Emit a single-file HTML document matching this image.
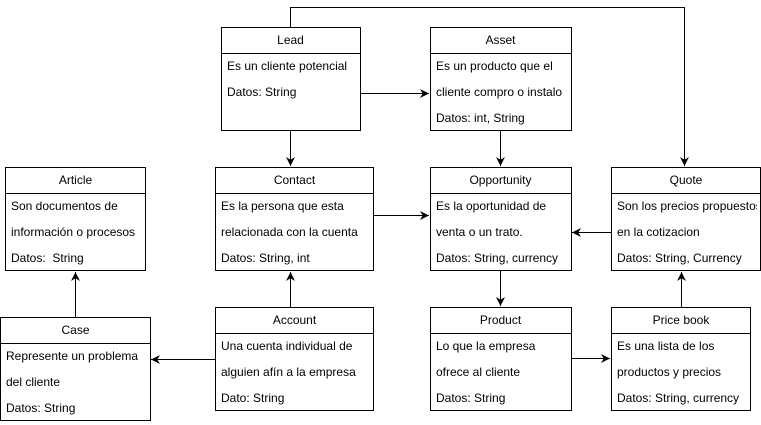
<!DOCTYPE html>
<html><head><meta charset="utf-8"><style>
html,body{margin:0;padding:0;background:#fff}
svg{display:block}
text{font-family:"Liberation Sans",Arial,sans-serif;font-size:12px;fill:#000}
</style></head><body>
<svg width="761" height="425" viewBox="0 0 761 425" xmlns="http://www.w3.org/2000/svg">
<defs>
<marker id="a" viewBox="0 0 10 10" refX="10" refY="5" markerWidth="9" markerHeight="9" markerUnits="userSpaceOnUse" orient="auto">
<path d="M0,0 L10,5 L0,10 L3,5 z" fill="#000"/>
</marker>
<clipPath id="qc"><rect x="611" y="167" width="146" height="104"/></clipPath>
</defs>
<g stroke="#000" stroke-width="1" fill="none">
<path d="M290.5,27 V7.5 H684.5 V166" marker-end="url(#a)"/>
<path d="M360,93.5 H429" marker-end="url(#a)"/>
<path d="M290.5,131 V166" marker-end="url(#a)"/>
<path d="M500.5,131 V166" marker-end="url(#a)"/>
<path d="M373,215.5 H429" marker-end="url(#a)"/>
<path d="M611,232.5 H572" marker-end="url(#a)"/>
<path d="M500.5,271 V306" marker-end="url(#a)"/>
<path d="M571,358.5 H610" marker-end="url(#a)"/>
<path d="M681.5,307 V272" marker-end="url(#a)"/>
<path d="M290.5,307 V272" marker-end="url(#a)"/>
<path d="M215,359.5 H151" marker-end="url(#a)"/>
<path d="M75.5,317 V272" marker-end="url(#a)"/>
<rect x="221.5" y="27.5" width="139" height="103" fill="#fff"/><path d="M221.5,53.5 H360.5"/>
<rect x="430.5" y="27.5" width="141" height="103" fill="#fff"/><path d="M430.5,53.5 H571.5"/>
<rect x="5.5" y="167.5" width="140" height="103" fill="#fff"/><path d="M5.5,193.5 H145.5"/>
<rect x="215.5" y="167.5" width="158" height="103" fill="#fff"/><path d="M215.5,193.5 H373.5"/>
<rect x="430.5" y="167.5" width="141" height="103" fill="#fff"/><path d="M430.5,193.5 H571.5"/>
<rect x="611.5" y="167.5" width="149" height="103" fill="#fff"/><path d="M611.5,193.5 H760.5"/>
<rect x="0.5" y="317.5" width="150" height="103" fill="#fff"/><path d="M0.5,343.5 H150.5"/>
<rect x="215.5" y="307.5" width="158" height="103" fill="#fff"/><path d="M215.5,333.5 H373.5"/>
<rect x="430.5" y="307.5" width="141" height="103" fill="#fff"/><path d="M430.5,333.5 H571.5"/>
<rect x="611.5" y="307.5" width="139" height="103" fill="#fff"/><path d="M611.5,333.5 H750.5"/>
</g>
<text x="290.5" y="44" text-anchor="middle">Lead</text>
<text x="227" y="70">Es un cliente potencial</text>
<text x="227" y="96">Datos: String</text>
<text x="500.5" y="44" text-anchor="middle">Asset</text>
<text x="436" y="70">Es un producto que el</text>
<text x="436" y="96">cliente compro o instalo</text>
<text x="436" y="122">Datos: int, String</text>
<text x="75.5" y="184" text-anchor="middle">Article</text>
<text x="11" y="210">Son documentos de</text>
<text x="11" y="236">información o procesos</text>
<text x="11" y="262">Datos:&#160; String</text>
<text x="294.5" y="184" text-anchor="middle">Contact</text>
<text x="221" y="210">Es la persona que esta</text>
<text x="221" y="236">relacionada con la cuenta</text>
<text x="221" y="262">Datos: String, int</text>
<text x="500.5" y="184" text-anchor="middle">Opportunity</text>
<text x="436" y="210">Es la oportunidad de</text>
<text x="436" y="236">venta o un trato.</text>
<text x="436" y="262">Datos: String, currency</text>
<text x="686" y="184" text-anchor="middle">Quote</text>
<g clip-path="url(#qc)">
<text x="617" y="210">Son los precios propuestos</text>
</g>
<text x="617" y="236">en la cotizacion</text>
<text x="617" y="262">Datos: String, Currency</text>
<text x="75.5" y="334" text-anchor="middle">Case</text>
<text x="6" y="360">Represente un problema</text>
<text x="6" y="386">del cliente</text>
<text x="6" y="412">Datos: String</text>
<text x="294.5" y="324" text-anchor="middle">Account</text>
<text x="221" y="350">Una cuenta individual de</text>
<text x="221" y="376">alguien afín a la empresa</text>
<text x="221" y="402">Dato: String</text>
<text x="500.5" y="324" text-anchor="middle">Product</text>
<text x="436" y="350">Lo que la empresa</text>
<text x="436" y="376">ofrece al cliente</text>
<text x="436" y="402">Datos: String</text>
<text x="681" y="324" text-anchor="middle">Price book</text>
<text x="617" y="350">Es una lista de los</text>
<text x="617" y="376">productos y precios</text>
<text x="617" y="402">Datos: String, currency</text>
</svg>
</body></html>
